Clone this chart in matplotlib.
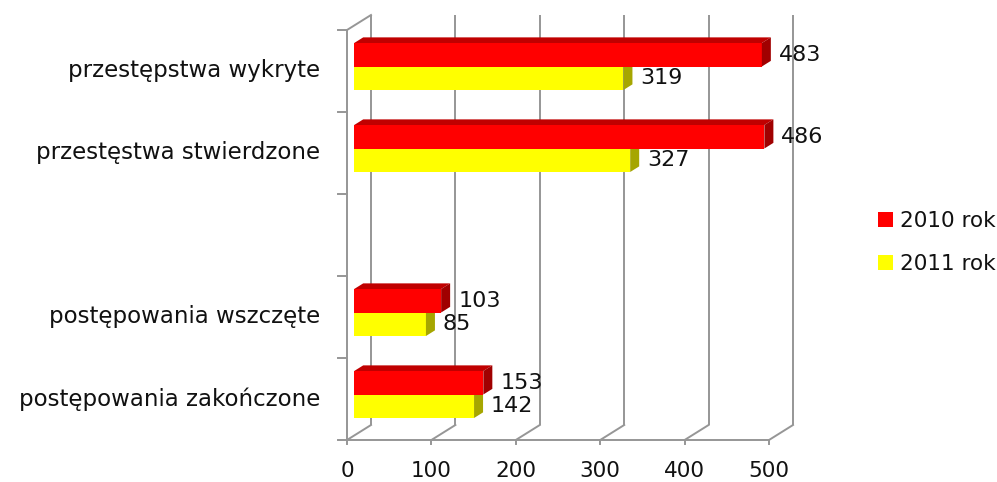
import matplotlib
matplotlib.use("Agg")
import matplotlib.pyplot as plt
from matplotlib.patches import Polygon, Patch
import numpy as np

plt.rcParams['font.family'] = ['DejaVu Sans']

categories = ["przestępstwa wykryte", "przestęstwa stwierdzone", "",
              "postępowania wszczęte", "postępowania zakończone"]
series_names = ["2010 rok", "2011 rok"]
values_2010 = [483, 486, None, 103, 153]
values_2011 = [319, 327, None, 85, 142]
x_ticks = [0, 100, 200, 300, 400, 500]

W, H = 997, 482
fig = plt.figure(figsize=(W / 100, H / 100), dpi=100)
ax = fig.add_axes([0, 0, 1, 1])
ax.set_axis_off()

px_per_unit = (769 - 347) / 500.0
slot_px = (440 - 30) / 5.0
ax.set_xlim(-347 / px_per_unit, (W - 347) / px_per_unit)
ax.set_ylim((H - 30) / slot_px, -30 / slot_px)

n = len(categories)
DX = 24 / px_per_unit
DY = 15 / slot_px
ffront = 0.30
fdepth = 0.375
dxf, dyf = DX * ffront, DY * ffront
dxb, dyb = DX * fdepth, DY * fdepth

grid_c = '#969696'
lw = 1.4
txt_c = '#111111'
fs_tick = 15.5
fs_lab = 16
fs_cat = 16.5
fs_leg = 15.5

for v in x_ticks:
    ax.plot([v + DX, v + DX], [-DY, n - DY], color=grid_c, lw=lw, zorder=1,
            solid_capstyle='butt')
    ax.plot([v, v + DX], [n, n - DY], color=grid_c, lw=lw, zorder=1)
    ax.plot([v, v], [n, n + 4 / slot_px], color=grid_c, lw=lw, zorder=1)
    ax.text(v, n + 31 / slot_px, str(v), ha='center', va='center',
            fontsize=fs_tick, color=txt_c)
ax.plot([0, x_ticks[-1]], [n, n], color=grid_c, lw=lw, zorder=1)
ax.plot([0, 0], [0, n], color=grid_c, lw=lw, zorder=1)
ax.plot([0, DX], [0, -DY], color=grid_c, lw=lw, zorder=1)
for k in range(n + 1):
    ax.plot([-9 / px_per_unit, 0], [k, k], color=grid_c, lw=lw, zorder=1)

bh = 23.5 / slot_px
colors = {
    "2010 rok": ('#FF0000', '#C00000', '#A00000'),
    "2011 rok": ('#FFFF00', '#D8D800', '#A6A600'),
}

def draw_bar(value, ytop, cols, z):
    front, top, side = cols
    x0 = dxf
    x1 = value + dxf
    ybot = ytop + bh
    ax.barh(ytop + bh / 2, value, height=bh, left=x0, color=front,
            edgecolor='none', zorder=z)
    ax.add_patch(Polygon([(x0, ytop), (x1, ytop), (x1 + dxb, ytop - dyb),
                          (x0 + dxb, ytop - dyb)], closed=True,
                         facecolor=top, edgecolor='none', zorder=z))
    ax.add_patch(Polygon([(x1, ytop), (x1, ybot), (x1 + dxb, ybot - dyb),
                          (x1 + dxb, ytop - dyb)], closed=True,
                         facecolor=side, edgecolor='none', zorder=z))
    ax.text(x1 + dxb + 8 / px_per_unit, ytop + bh / 2, str(value),
            ha='left', va='center', fontsize=fs_lab, color=txt_c, zorder=6)

for i, cat in enumerate(categories):
    c = i + 0.5 - dyf
    if cat:
        ax.text(-27 / px_per_unit, i + 0.5, cat, ha='right', va='center',
                fontsize=fs_cat, color=txt_c)
    if values_2011[i] is not None:
        draw_bar(values_2011[i], c, colors["2011 rok"], 3)
    if values_2010[i] is not None:
        draw_bar(values_2010[i], c - bh, colors["2010 rok"], 4)

handles = [Patch(facecolor=colors[s][0], edgecolor='none') for s in series_names]
fs_leg_px = fs_leg * 100 / 72
leg = fig.legend(handles, series_names, loc='center left',
                 bbox_to_anchor=(867 / W, 1 - 242.5 / H), frameon=False,
                 fontsize=fs_leg, handlelength=15 / fs_leg_px,
                 handleheight=15 / fs_leg_px,
                 handletextpad=7 / fs_leg_px, labelspacing=1.05, borderpad=0)
for t in leg.get_texts():
    t.set_color(txt_c)

fig.savefig("out.png", dpi=100, facecolor='white')
